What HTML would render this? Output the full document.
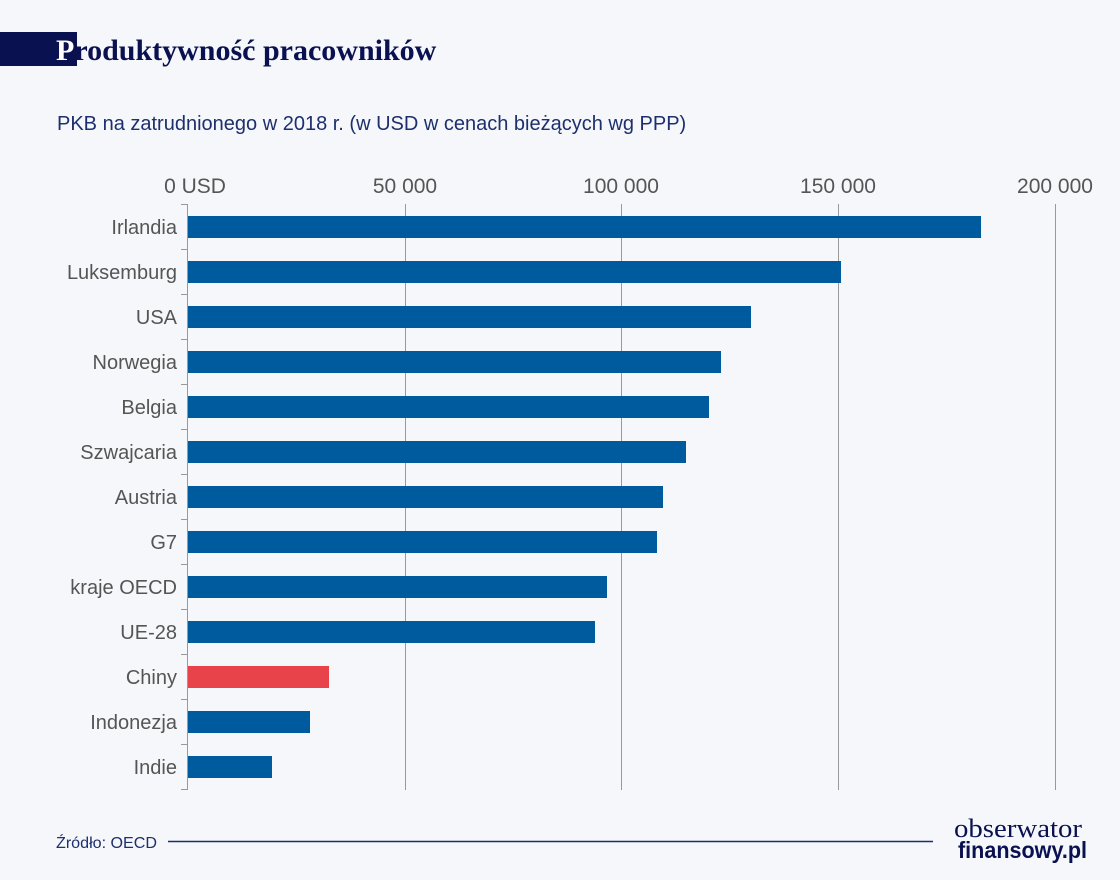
<!DOCTYPE html>
<html><head><meta charset="utf-8"><style>
body{margin:0;background:#f5f7fa;}
svg{display:block}
</style></head><body>
<svg width="1120" height="880" xmlns="http://www.w3.org/2000/svg" font-family="Liberation Sans, sans-serif">
<rect width="1120" height="880" fill="#f5f7fa"/>
<rect x="0" y="32" width="77" height="34" fill="#0a1150"/>
<text x="56" y="60" font-family="Liberation Serif, serif" font-weight="bold" font-size="30" fill="#0a1150"><tspan fill="#fff">P</tspan>roduktywność pracowników</text>
<text x="57" y="130" font-size="20" fill="#1d2f6e">PKB na zatrudnionego w 2018 r. (w USD w cenach bieżących wg PPP)</text>
<g font-size="21" fill="#555" text-anchor="middle">
<text x="195" y="193">0 USD</text>
<text x="405" y="193">50 000</text>
<text x="621" y="193">100 000</text>
<text x="838" y="193">150 000</text>
<text x="1055" y="193">200 000</text>
</g>
<g stroke="#999" stroke-width="1">
<line x1="405.5" y1="204" x2="405.5" y2="790"/>
<line x1="621.5" y1="204" x2="621.5" y2="790"/>
<line x1="838.5" y1="204" x2="838.5" y2="790"/>
<line x1="1055.5" y1="204" x2="1055.5" y2="790"/>
<line x1="187.5" y1="204" x2="187.5" y2="790"/>
<path d="M181 204.5H187M181 249.5H187M181 294.5H187M181 339.5H187M181 384.5H187M181 429.5H187M181 474.5H187M181 519.5H187M181 564.5H187M181 609.5H187M181 654.5H187M181 699.5H187M181 744.5H187M181 789.5H187"/>
</g>
<g fill="#005a9e">
<rect x="188" y="216" width="793" height="22"/>
<rect x="188" y="261" width="653" height="22"/>
<rect x="188" y="306" width="563" height="22"/>
<rect x="188" y="351" width="533" height="22"/>
<rect x="188" y="396" width="521" height="22"/>
<rect x="188" y="441" width="498" height="22"/>
<rect x="188" y="486" width="475" height="22"/>
<rect x="188" y="531" width="469" height="22"/>
<rect x="188" y="576" width="419" height="22"/>
<rect x="188" y="621" width="407" height="22"/>
<rect x="188" y="666" width="141" height="22" fill="#e8434a"/>
<rect x="188" y="711" width="122" height="22"/>
<rect x="188" y="756" width="84" height="22"/>
</g>
<g font-size="20" fill="#555" text-anchor="end">
<text x="177" y="234">Irlandia</text>
<text x="177" y="279">Luksemburg</text>
<text x="177" y="324">USA</text>
<text x="177" y="369">Norwegia</text>
<text x="177" y="414">Belgia</text>
<text x="177" y="459">Szwajcaria</text>
<text x="177" y="504">Austria</text>
<text x="177" y="549">G7</text>
<text x="177" y="594">kraje OECD</text>
<text x="177" y="639">UE-28</text>
<text x="177" y="684">Chiny</text>
<text x="177" y="729">Indonezja</text>
<text x="177" y="774">Indie</text>
</g>
<text x="56" y="848" font-size="16" fill="#1d2f6e" textLength="101" lengthAdjust="spacingAndGlyphs">Źródło: OECD</text>
<line x1="168" y1="841.5" x2="933" y2="841.5" stroke="#1d2f6e" stroke-width="1.5"/>
<text x="954" y="837" font-family="Liberation Serif, serif" font-size="26" fill="#0a1150" textLength="128" lengthAdjust="spacingAndGlyphs">obserwator</text>
<text x="958" y="858" font-family="Liberation Sans Narrow, Liberation Sans, sans-serif" font-weight="bold" font-size="23" fill="#0a1150" textLength="129" lengthAdjust="spacingAndGlyphs">finansowy.pl</text>
</svg>
</body></html>
